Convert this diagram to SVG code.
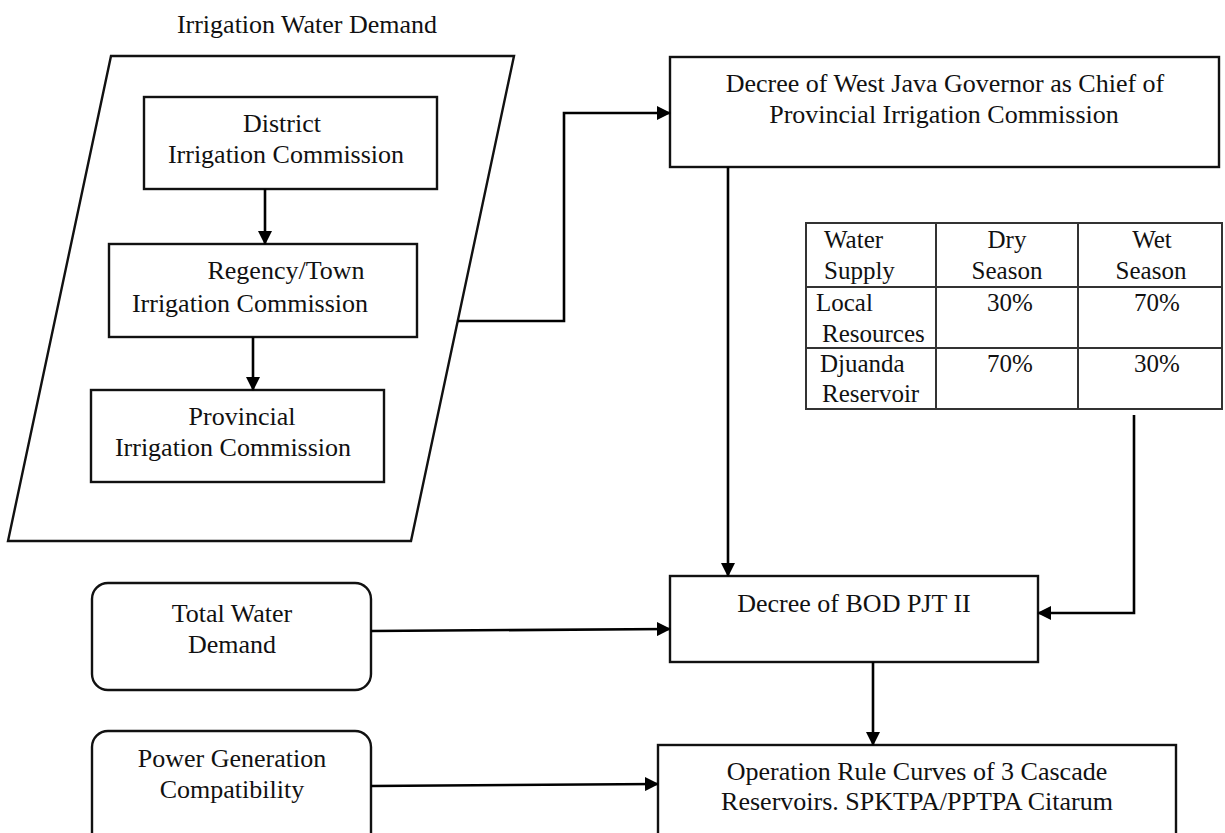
<svg xmlns="http://www.w3.org/2000/svg" width="1225" height="833" viewBox="0 0 1225 833">
<style>
text{font-family:"Liberation Serif","Times New Roman",serif;font-size:26px;fill:#111}
.c{text-anchor:middle}
.t{font-size:25px}
.box{fill:#fff;stroke:#111;stroke-width:2.4}
.tab{fill:none;stroke:#333;stroke-width:2}
.conn{fill:none;stroke:#000;stroke-width:2.6}
</style>
<defs>
<marker id="ah" markerUnits="userSpaceOnUse" markerWidth="14" markerHeight="14" refX="13" refY="7" orient="auto">
<path d="M0,0 L14,7 L0,14 z" fill="#000"/>
</marker>
</defs>
<rect width="1225" height="833" fill="#fff"/>

<g id="irrigation-water-demand">
<text class="c" x="307" y="33">Irrigation Water Demand</text>
<polygon class="box" points="111,56 514,56 411,541 8,541"/>
</g>

<g id="district">
<rect class="box" x="144" y="97" width="293" height="92"/>
<text class="c" x="282" y="132">District</text>
<text class="c" x="286" y="163">Irrigation Commission</text>
</g>

<g id="regency">
<rect class="box" x="109" y="244" width="308" height="93"/>
<text class="c" x="286" y="279">Regency/Town</text>
<text class="c" x="250" y="312">Irrigation Commission</text>
</g>

<g id="provincial">
<rect class="box" x="91" y="390" width="293" height="92"/>
<text class="c" x="242" y="425">Provincial</text>
<text class="c" x="233" y="456">Irrigation Commission</text>
</g>

<g id="governor-decree">
<rect class="box" x="670" y="57" width="549" height="110"/>
<text class="c" x="945" y="92">Decree of West Java Governor as Chief of</text>
<text class="c" x="944" y="123">Provincial Irrigation Commission</text>
</g>

<g id="water-supply-table">
<rect class="tab" x="806" y="223" width="416" height="186"/>
<line class="tab" x1="806" y1="287" x2="1222" y2="287"/>
<line class="tab" x1="806" y1="348" x2="1222" y2="348"/>
<line class="tab" x1="936" y1="223" x2="936" y2="409"/>
<line class="tab" x1="1078" y1="223" x2="1078" y2="409"/>
<text class="t" x="824" y="248">Water</text>
<text class="t" x="824" y="279">Supply</text>
<text class="t c" x="1007" y="248">Dry</text>
<text class="t c" x="1007" y="279">Season</text>
<text class="t c" x="1152" y="248">Wet</text>
<text class="t c" x="1151" y="279">Season</text>
<text class="t" x="816" y="311">Local</text>
<text class="t" x="822" y="342">Resources</text>
<text class="t c" x="1010" y="311">30%</text>
<text class="t c" x="1157" y="311">70%</text>
<text class="t" x="820" y="372">Djuanda</text>
<text class="t" x="822" y="402">Reservoir</text>
<text class="t c" x="1010" y="372">70%</text>
<text class="t c" x="1157" y="372">30%</text>
</g>

<g id="bod-decree">
<rect class="box" x="670" y="576" width="368" height="86"/>
<text class="c" x="854" y="612">Decree of BOD PJT II</text>
</g>

<g id="total-water-demand">
<rect class="box" x="92" y="583" width="279" height="107" rx="16" ry="16"/>
<text class="c" x="232" y="622">Total Water</text>
<text class="c" x="232" y="653">Demand</text>
</g>

<g id="power-generation">
<rect class="box" x="92" y="731" width="279" height="130" rx="16" ry="16"/>
<text class="c" x="232" y="767">Power Generation</text>
<text class="c" x="232" y="798">Compatibility</text>
</g>

<g id="operation-rule-curves">
<rect class="box" x="658" y="745" width="518" height="120"/>
<text class="c" x="917" y="780">Operation Rule Curves of 3 Cascade</text>
<text class="c" x="917" y="810">Reservoirs. SPKTPA/PPTPA Citarum</text>
</g>

<g id="connectors">
<line class="conn" x1="265" y1="189" x2="265" y2="244" marker-end="url(#ah)"/>
<line class="conn" x1="253" y1="337" x2="253" y2="390" marker-end="url(#ah)"/>
<polyline class="conn" points="458,321 564,321 564,113 670,113" marker-end="url(#ah)"/>
<line class="conn" x1="728" y1="167" x2="728" y2="576" marker-end="url(#ah)"/>
<polyline class="conn" points="1134,415 1134,613 1038,613" marker-end="url(#ah)"/>
<line class="conn" x1="371" y1="631" x2="670" y2="629" marker-end="url(#ah)"/>
<line class="conn" x1="873" y1="662" x2="873" y2="745" marker-end="url(#ah)"/>
<line class="conn" x1="371" y1="786" x2="658" y2="784" marker-end="url(#ah)"/>
</g>
</svg>
